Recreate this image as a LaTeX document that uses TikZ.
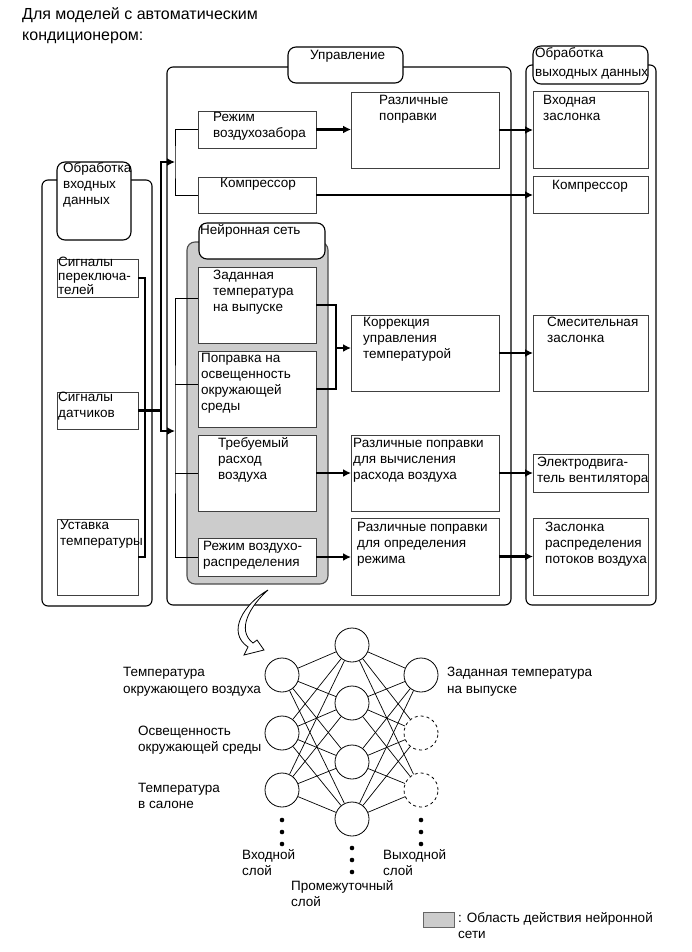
\documentclass[tikz,border=0pt]{standalone}
\usepackage{fontspec}
\setmainfont{Liberation Sans}
\usetikzlibrary{shapes,arrows,arrows.meta,positioning}

\tikzset{
  blk/.style={draw=black!75, fill=white, line width=0.9pt, inner sep=0pt, outer sep=0pt},
  blktxt/.style={anchor=north west, align=left, inner sep=0pt,
    font=\fontsize{13.5}{16}\selectfont, execute at begin node=\rule{0pt}{10.5pt}},
  grp/.style={draw, line width=1.1pt, rounded corners=6pt},
  tabbox/.style={draw, fill=white, line width=1.1pt, rounded corners=8pt, inner sep=0pt, outer sep=0pt},
  wire/.style={line width=2.5pt},
  tip/.style={-{Latex[length=8pt,width=8pt]}},
  bus/.style={line width=0.9pt},
  edge/.style={line width=0.7pt},
  neuron/.style={circle, draw, fill=white, minimum size=34pt, inner sep=0pt, line width=0.8pt},
}

\begin{document}
\begin{tikzpicture}[x=1pt,y=-1pt]
    \useasboundingbox (0,0) rectangle (691,952);

    % Title
    \node[blktxt, font=\fontsize{16}{21}\selectfont] (title) at (22,7) {Для моделей с автоматическим\\кондиционером:};

    % Containers
    \draw[grp] (42,180) rectangle (152,606);
    \draw[grp] (167,67) rectangle (511,605);
    \draw[grp] (526,65) rectangle (656,605);

    % Neural network area
    \draw[fill=gray!40, draw=black!70, line width=1.1pt, rounded corners=8pt] (187,242) rectangle (328,584);

    % Tabs
    \node[tabbox, minimum width=74, minimum height=78] (intab) at (94,201) {};
    \node[blktxt] (intab-t) at (63,162) {Обработка\\входных\\данных};
    \node[tabbox, minimum width=115, minimum height=36] (ctltab) at (345.5,65) {};
    \node[blktxt] (ctltab-t) at (310,49) {Управление};
    \node[tabbox, minimum width=115, minimum height=38] (outtab) at (590.5,65) {};
    \node[blktxt] (outtab-t) at (535,47) {Обработка\\[3pt]выходных данных};
    \node[tabbox, minimum width=126, minimum height=36] (nntab) at (262,241) {};
    \node[blktxt] (nntab-t) at (200,224) {Нейронная сеть};

    % Input processing
    \node[blk, minimum width=81, minimum height=38] (sp) at (97.5,278) {};
    \node[blktxt, font=\fontsize{13.5}{14}\selectfont] (sp-t) at (58,257) {Сигналы\\переключа-\\телей};
    \node[blk, minimum width=81, minimum height=37] (sd) at (97.5,410.5) {};
    \node[blktxt] (sd-t) at (58,392) {Сигналы\\датчиков};
    \node[blk, minimum width=81, minimum height=76] (ut) at (97.5,557) {};
    \node[blktxt] (ut-t) at (60,520) {Уставка\\температуры};

    % Control, first column
    \node[blk, minimum width=118, minimum height=37] (rvz) at (257,129.5) {};
    \node[blktxt] (rvz-t) at (213,112) {Режим\\воздухозабора};
    \node[blk, minimum width=118, minimum height=36] (kc) at (257,195) {};
    \node[blktxt] (kc-t) at (220,177) {Компрессор};
    \node[blk, minimum width=118, minimum height=76] (zt) at (257,305) {};
    \node[blktxt] (zt-t) at (213,270) {Заданная\\температура\\на выпуске};
    \node[blk, minimum width=118, minimum height=76] (po) at (257,389) {};
    \node[blktxt] (po-t) at (201,353) {Поправка на\\освещенность\\окружающей\\среды};
    \node[blk, minimum width=118, minimum height=76] (tr) at (257,473) {};
    \node[blktxt] (tr-t) at (218,437) {Требуемый\\расход\\воздуха};
    \node[blk, minimum width=118, minimum height=38] (rr) at (257,557) {};
    \node[blktxt] (rr-t) at (203,541) {Режим воздухо-\\распределения};

    % Control, second column
    \node[blk, minimum width=148, minimum height=76] (rp) at (425,130) {};
    \node[blktxt] (rp-t) at (379,95) {Различные\\поправки};
    \node[blk, minimum width=148, minimum height=76] (kor) at (425,353) {};
    \node[blktxt] (kor-t) at (363,317) {Коррекция\\управления\\температурой};
    \node[blk, minimum width=148, minimum height=76] (rv) at (425,473) {};
    \node[blktxt] (rv-t) at (353,438) {Различные поправки\\для вычисления\\расхода воздуха};
    \node[blk, minimum width=148, minimum height=77] (rd) at (425,556.5) {};
    \node[blktxt] (rd-t) at (357,522) {Различные поправки\\для определения\\режима};

    % Output processing
    \node[blk, minimum width=115, minimum height=77] (vz) at (590.5,129.5) {};
    \node[blktxt] (vz-t) at (543,95) {Входная\\заслонка};
    \node[blk, minimum width=115, minimum height=37] (ko) at (590.5,194.5) {};
    \node[blktxt] (ko-t) at (552,179) {Компрессор};
    \node[blk, minimum width=115, minimum height=76] (sm) at (590.5,353) {};
    \node[blktxt] (sm-t) at (547,317) {Смесительная\\заслонка};
    \node[blk, minimum width=115, minimum height=38] (ev) at (590.5,473) {};
    \node[blktxt] (ev-t) at (537,457) {Электродвига-\\тель вентилятора};
    \node[blk, minimum width=115, minimum height=77] (zr) at (590.5,556.5) {};
    \node[blktxt] (zr-t) at (545,522) {Заслонка\\распределения\\потоков воздуха};

    % Input wiring
    \coordinate (inbus) at (145,0);
    \coordinate (mid) at (161,0);
    \coordinate (busA) at (175,162);
    \coordinate (busB) at (175,431);
    \draw[wire] (sp.east) -| (inbus |- ut.east) -- (ut.east);
    \draw[wire] (sd.east) -- (sd.east -| mid);
    \draw[wire, {Latex[length=8pt,width=8pt]}-{Latex[length=8pt,width=8pt]}] (busA) -- (mid |- busA) -- (mid |- busB) -- (busB);

    % Distribution buses
    \draw[bus] (rvz.west) -| (busA) |- (kc.west);
    \coordinate (ztin) at ([yshift=7]zt.west);
    \coordinate (poin) at ([yshift=5]po.west);
    \draw[bus] (ztin) -| (busB) |- (rr.west);
    \draw[bus] (busB |- poin) -- (poin);
    \draw[bus] (busB |- tr.west) -- (tr.west);

    % Temperature bracket
    \coordinate (brk) at (336,348);
    \draw[wire] (zt.east) -| (brk) |- (po.east);
    \draw[wire, tip] (brk) -- (brk -| kor.west);

    % Signal flow
    \draw[wire, tip] (rvz.east) -- (rvz.east -| rp.west);
    \draw[wire, tip] (rp.east) -- (rp.east -| vz.west);
    \draw[wire, tip] (kc.east) -- (kc.east -| ko.west);
    \draw[wire, tip] (kor.east) -- (kor.east -| sm.west);
    \draw[wire, tip] (tr.east) -- (tr.east -| rv.west);
    \draw[wire, tip] (rv.east) -- (rv.east -| ev.west);
    \draw[wire, tip] (rr.east) -- (rr.east -| rd.west);
    \draw[wire, tip] (rd.east) -- (rd.east -| zr.west);

    % Hollow curved arrow
    \draw[line width=0.8pt, fill=white] (268,590) .. controls (244,604) and (226,632) .. (248,647)
        -- (244,655) -- (264,650) -- (257,640) -- (253,643)
        .. controls (236,630) and (250,606) .. (268,590) -- cycle;

    % Neural network
    \node[neuron] (in1) at (282,675) {};
    \node[neuron] (in2) at (282,733) {};
    \node[neuron] (in3) at (282,790) {};
    \node[neuron] (h1) at (352,645) {};
    \node[neuron] (h2) at (352,703) {};
    \node[neuron] (h3) at (352,762) {};
    \node[neuron] (h4) at (352,819) {};
    \node[neuron] (o1) at (421,675) {};
    \node[neuron, dashed] (o2) at (421,733) {};
    \node[neuron, dashed] (o3) at (421,790) {};
    \foreach \i in {1,2,3}
      \foreach \j in {1,...,4} {
        \draw[edge] (in\i) -- (h\j);
        \draw[edge] (h\j) -- (o\i);
      }
    \foreach \p in {(282,820),(282,832),(282,844),(352,848),(352,860),(352,872),(421,820),(421,832),(421,844)}
      \fill \p circle (2.3);

    % Labels
    \node[blktxt, font=\fontsize{13.5}{17}\selectfont] (l-ta) at (123,667) {Температура\\окружающего воздуха};
    \node[blktxt] (l-os) at (138,726) {Освещенность\\окружающей среды};
    \node[blktxt] (l-ts) at (138,783) {Температура\\в салоне};
    \node[blktxt, font=\fontsize{13.5}{17}\selectfont] (l-zt) at (447,667) {Заданная температура\\на выпуске};
    \node[blktxt] (l-in) at (242,849) {Входной\\слой};
    \node[blktxt] (l-out) at (383,849) {Выходной\\слой};
    \node[blktxt] (l-mid) at (291,880) {Промежуточный\\слой};

    % Legend
    \node[draw=black!60, fill=gray!40, line width=0.8pt, minimum width=31, minimum height=15, inner sep=0pt] (leg) at (438.5,919.5) {};
    \node[blktxt] (leg-t) at (458,912) {: Область действия нейронной\\сети};
\end{tikzpicture}
\end{document}
